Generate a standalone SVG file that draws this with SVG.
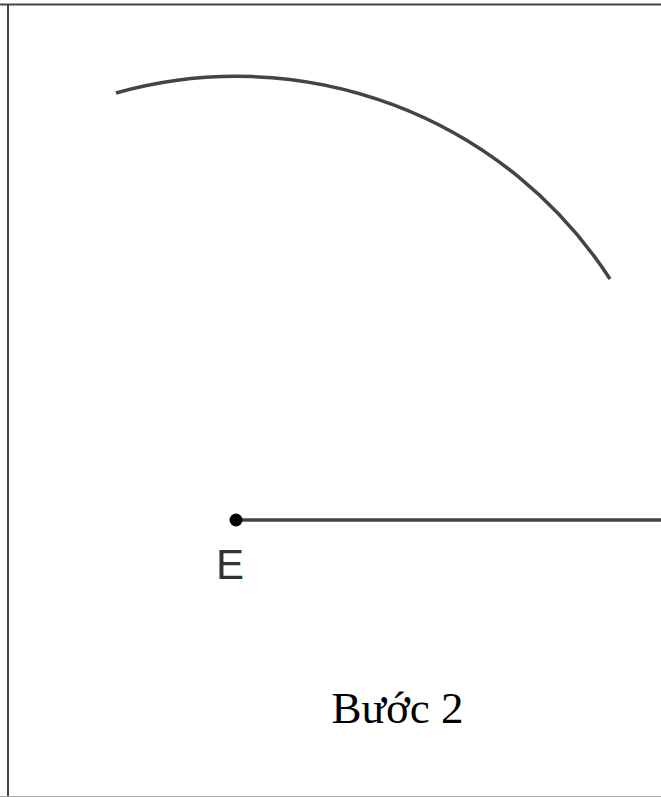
<svg xmlns="http://www.w3.org/2000/svg" width="661" height="797" viewBox="0 0 661 797">
<style>
.frame{stroke:#444;fill:none}
.geo{stroke:#444;stroke-width:3.5;fill:none;stroke-linecap:butt}
.lbl{font-family:"Liberation Sans",Arial,sans-serif;fill:#333}
.cap{font-family:"Liberation Serif","Times New Roman",serif;fill:#000}
</style>
<rect width="661" height="797" fill="#fff"/>
<g id="frame">
<line class="frame" x1="0" y1="4.5" x2="661" y2="4.5" stroke-width="2"/>
<line class="frame" x1="8" y1="4" x2="8" y2="797" stroke-width="2"/>
<line x1="0" y1="796.5" x2="661" y2="796.5" stroke="#aaa" stroke-width="1"/>
</g>
<g id="connectors">
<path id="arc" class="geo" d="M116,93 A445,445 0 0 1 610,279"/>
<line id="ray" class="geo" x1="236" y1="520" x2="661" y2="520"/>
</g>
<g id="E">
<circle cx="236" cy="520" r="6.5" fill="#000"/>
<text class="lbl" x="230" y="579" font-size="42" text-anchor="middle">E</text>
</g>
<g id="caption">
<text class="cap" x="397.5" y="723" font-size="45" text-anchor="middle">Bước 2</text>
</g>
</svg>
